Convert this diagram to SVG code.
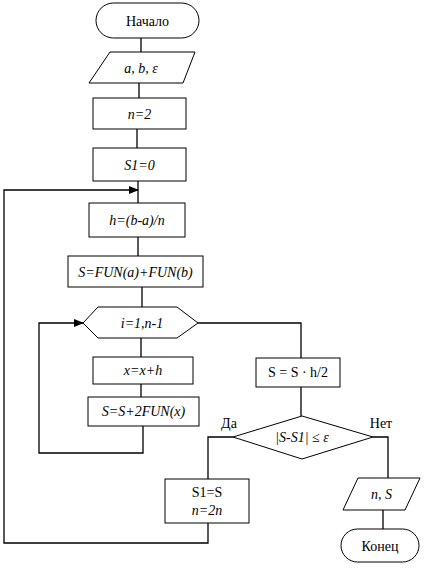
<svg xmlns="http://www.w3.org/2000/svg" width="425" height="569" viewBox="0 0 425 569">
<style>
.s{fill:#fff;stroke:#000;stroke-width:1}
.c{fill:none;stroke:#000;stroke-width:1.3}
.t{font-family:'Liberation Serif','DejaVu Serif',serif;font-size:14px;fill:#000;text-anchor:middle}
.i{font-style:italic}
</style>
<defs>
<marker id="arr" markerWidth="10" markerHeight="8" refX="9" refY="4" orient="auto" markerUnits="userSpaceOnUse"><path d="M0,0 L10,4 L0,8 Z" fill="#000"/></marker>
</defs>
<rect width="425" height="569" fill="#fff"/>
<g id="connectors">
<path class="c" d="M141,38 V52"/>
<path class="c" d="M139,83 V98"/>
<path class="c" d="M137,129 V148"/>
<path class="c" d="M138,181 V203"/>
<path class="c" d="M138,237 V256"/>
<path class="c" d="M142,287 V307"/>
<path class="c" d="M141,338 V357"/>
<path class="c" d="M141,384 V397"/>
<path class="c" d="M143,426 V453 H39 V323 H83" marker-end="url(#arr)"/>
<path class="c" d="M198,323 H301 V358"/>
<path class="c" d="M301,387 V416"/>
<path class="c" d="M233,437 H208 V479"/>
<path class="c" d="M373,437 H388 V478"/>
<path class="c" d="M383,510 V529"/>
<path class="c" d="M208,523 V543 H4 V190 H138" marker-end="url(#arr)"/>
</g>
<g class="t" font-family="Liberation Serif, DejaVu Serif, serif">
<g id="start"><rect class="s" x="96" y="3" width="103" height="35" rx="17.5"/><text x="147.5" y="25.5">Начало</text></g>
<g id="input"><polygon class="s" points="110,52 195,52 183,83 89,83"/><text class="i" x="141" y="72.5">a, b, ε</text></g>
<g id="n2"><rect class="s" x="93" y="98" width="93" height="31"/><text class="i" x="139.5" y="118.5">n=2</text></g>
<g id="s10"><rect class="s" x="93" y="148" width="93" height="33"/><text class="i" x="139.5" y="169.5">S1=0</text></g>
<g id="h"><rect class="s" x="89" y="203" width="96" height="34"/><text class="i" x="137" y="225">h=(b-a)/n</text></g>
<g id="sfun"><rect class="s" x="68" y="256" width="135" height="31"/><text class="i" x="135.5" y="276.5">S=FUN(a)+FUN(b)</text></g>
<g id="loop"><polygon class="s" points="83,323 98,307 177,307 198,323 177,338 98,338"/><text class="i" x="142" y="328">i=1,n-1</text></g>
<g id="xh"><rect class="s" x="93" y="357" width="100" height="27"/><text class="i" x="143" y="375">x=x+h</text></g>
<g id="s2fun"><rect class="s" x="88" y="397" width="111" height="29"/><text class="i" x="143.5" y="416">S=S+2FUN(x)</text></g>
<g id="sh2"><rect class="s" x="256" y="358" width="84" height="29"/><text x="298" y="377">S = S · h/2</text></g>
<g id="cond"><polygon class="s" points="302,416 373,437 302,459 233,437"/><text x="302" y="442"><tspan class="i">|S-S1|</tspan> ≤ <tspan class="i">ε</tspan></text>
<text x="229" y="428">Да</text><text x="381" y="428">Нет</text></g>
<g id="update"><rect class="s" x="165" y="479" width="84" height="44"/><text x="207" y="497">S1=S</text><text class="i" x="207" y="515">n=2n</text></g>
<g id="output"><polygon class="s" points="358,478 420,478 405,510 343,510"/><text class="i" x="381.5" y="498.5">n, S</text></g>
<g id="end"><rect class="s" x="341" y="529" width="78" height="33" rx="16.5"/><text x="380" y="550.5">Конец</text></g>
</g>
</svg>
